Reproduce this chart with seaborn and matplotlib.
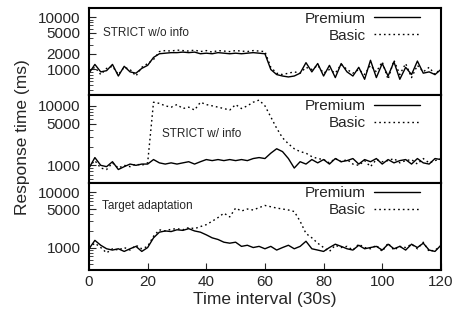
import numpy as np
import pandas as pd
import matplotlib
matplotlib.use("Agg")
import matplotlib.pyplot as plt
import matplotlib.ticker as mticker
import seaborn as sns

# time intervals (30s each), sampled every 2 intervals
t = list(range(0, 121, 2))

# STRICT w/o info
strict_noinfo_premium = [850, 1250, 900, 950, 1250, 750, 1150, 900, 850, 1050, 1200, 1700, 2000, 2050, 2100, 2100,
                         2150, 2100, 2150, 2000, 2050, 2000, 2100, 2050, 2000, 2050, 2000, 2050, 2100, 2050, 2000,
                         1000, 800, 750, 720, 750, 850, 1350, 900, 1300, 750, 1200, 700, 1300, 900, 750, 1100, 650,
                         1500, 700, 1300, 750, 1400, 650, 1100, 800, 1450, 850, 900, 800, 1000]
strict_noinfo_basic = [950, 1100, 800, 1050, 1150, 800, 1100, 1000, 750, 1100, 1300, 1550, 2200, 2300, 2250, 2350,
                       2300, 2250, 2350, 2200, 2300, 2150, 2300, 2250, 2200, 2300, 2250, 2200, 2300, 2250, 2200,
                       1100, 850, 800, 850, 900, 850, 1100, 1000, 1200, 850, 1000, 850, 1250, 1000, 850, 1000, 800,
                       1200, 900, 1400, 650, 1500, 800, 1300, 700, 1200, 900, 1100, 800, 1050]

# STRICT w/ info
strict_info_premium = [900, 1350, 1000, 950, 1150, 850, 950, 1050, 1000, 1050, 1050, 1250, 1100, 1050, 1100, 1050,
                       1100, 1150, 1050, 1150, 1250, 1200, 1250, 1200, 1250, 1200, 1250, 1200, 1300, 1350, 1300,
                       1600, 1900, 1700, 1300, 900, 1150, 1050, 1250, 1100, 1250, 1050, 1300, 1150, 1200, 1300, 1050,
                       1250, 1150, 1300, 1050, 1250, 1100, 1200, 1250, 1050, 1300, 1100, 1050, 1300, 1250]
strict_info_basic = [950, 1200, 900, 850, 1100, 900, 1000, 950, 1050, 1000, 1100, 11500, 11000, 10000, 9500, 10500,
                     9000, 9500, 8500, 11500, 10500, 10000, 9500, 9000, 8500, 10500, 9000, 10000, 11500, 12500, 10000,
                     6500, 4200, 2900, 2300, 1900, 1700, 1600, 1400, 1300, 1250, 1100, 1300, 1150, 1250, 1050, 1000,
                     1200, 950, 1250, 1150, 1200, 1300, 1100, 1200, 1250, 1050, 1300, 1100, 1200, 1300]

# Target adaptation
target_premium = [950, 1350, 1100, 950, 900, 950, 850, 950, 1050, 850, 1000, 1500, 1900, 2000, 1950, 2100,
                  2050, 2200, 2000, 1900, 1700, 1500, 1400, 1250, 1200, 1250, 1050, 1100, 1000, 1050, 950,
                  1050, 900, 1000, 1100, 950, 1050, 1300, 950, 900, 850, 1000, 1150, 1050, 950, 900, 1100, 950,
                  1000, 1050, 900, 1150, 950, 1050, 900, 1150, 1000, 1200, 900, 850, 1100]
target_basic = [1000, 1200, 1000, 800, 950, 900, 1000, 900, 1100, 950, 1050, 1600, 2100, 2000, 2150, 2200,
                2100, 2300, 2200, 2400, 2600, 3000, 3500, 4200, 3600, 5200, 4600, 5000, 4800, 5300, 5800,
                5500, 5200, 5000, 4800, 4500, 3000, 1800, 1500, 1200, 1000, 850, 1100, 1000, 1050, 900, 1150, 1000,
                950, 1100, 850, 1200, 900, 1050, 1000, 1150, 950, 1250, 850, 900, 1050]

panels = [
    ("STRICT w/o info", strict_noinfo_premium, strict_noinfo_basic, [1000, 2000, 5000, 10000], (320, 15000), (0.04, 0.716)),
    ("STRICT w/ info", strict_info_premium, strict_info_basic, [1000, 5000, 10000], (510, 15000), (0.207, 0.557)),
    ("Target adaptation", target_premium, target_basic, [1000, 5000, 10000], (390, 15000), (0.037, 0.736)),
]

sns.set_style("ticks")
plt.rcParams['font.family'] = ['Liberation Sans', 'DejaVu Sans']

fig, axes = plt.subplots(3, 1, figsize=(4.71, 3.2), dpi=100, sharex=True)
fig.subplots_adjust(left=0.189, right=0.936, top=0.975, bottom=0.156, hspace=0)

for ax, (title, prem, basic, yt, ylim, tpos) in zip(axes, panels):
    df = pd.DataFrame({"t": t * 2,
                       "ms": prem + basic,
                       "cls": ["Premium"] * len(t) + ["Basic"] * len(t)})
    sns.lineplot(data=df, x="t", y="ms", style="cls", style_order=["Premium", "Basic"],
                 dashes={"Premium": "", "Basic": (1.2, 2.2)}, color="black",
                 linewidth=1.0, ax=ax, legend=False)
    ax.plot([], [], color="black", lw=1.0, label="Premium")
    ax.plot([], [], color="black", lw=1.0, dashes=(1.2, 2.2), label="Basic")
    ax.set_yscale("log")
    ax.set_ylim(*ylim)
    ax.set_xlim(0, 120)
    ax.yaxis.set_major_locator(mticker.FixedLocator(yt))
    ax.yaxis.set_major_formatter(mticker.FuncFormatter(lambda v, p: f"{int(v)}"))
    ax.yaxis.set_minor_locator(mticker.LogLocator(base=10, subs=np.arange(2, 10)))
    ax.yaxis.set_minor_formatter(mticker.NullFormatter())
    ax.tick_params(axis="y", which="major", direction="in", length=5, width=0.8, labelsize=11, pad=6)
    ax.tick_params(axis="y", which="minor", direction="in", length=3, width=0.6)
    ax.tick_params(axis="x", which="both", direction="in", length=5, width=0.8, labelsize=11,
                   bottom=True, top=False)
    for s in ax.spines.values():
        s.set_linewidth(1.5)
        s.set_color("black")
    ax.set_xlabel("")
    ax.set_ylabel("")
    ax.text(tpos[0], tpos[1], title, transform=ax.transAxes, fontsize=8.5, va="center", ha="left")
    ax.legend(loc="upper right", bbox_to_anchor=(0.97, 1.08), frameon=False, markerfirst=False,
              fontsize=11, handlelength=3.0, handletextpad=0.5, labelspacing=0.2, borderpad=0.2)

for ax in axes[:2]:
    ax.tick_params(axis="x", which="both", bottom=False, labelbottom=False)

axes[2].set_xticks(range(0, 121, 20))
axes[2].set_xlabel("Time interval (30s)", fontsize=12.5, labelpad=2)
fig.text(0.047, 0.57, "Response time (ms)", rotation=90, fontsize=12.5, va="center", ha="center")

fig.savefig("out.png", dpi=100)
